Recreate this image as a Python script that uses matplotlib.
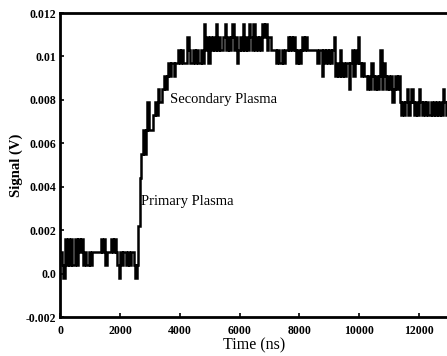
import numpy as np
import matplotlib
import matplotlib.pyplot as plt

matplotlib.use('agg')

plt.rcParams['font.family'] = ['Liberation Serif', 'DejaVu Serif']

# scope trace, sampled every 50 ns, in mV
dt_ns = 50
signal_mv = [
    1.0, 0.4, -0.2, 1.6, 0.4, 1.6, 0.4, 1.6, 0.4, 0.4, 1.6, 0.4, 1.6, 1.0, 1.6, 0.4, 1.0, 0.4, 0.4, 1.0,
    0.4, 1.0, 1.0, 1.0, 1.0, 1.0, 1.0, 1.6, 1.0, 1.6, 0.4, 1.0, 1.0, 1.0, 1.6, 1.0, 1.6, 1.0, 0.4, -0.2,
    1.0, 0.4, 1.0, 1.0, 0.4, 1.0, 0.4, 1.0, 1.0, 0.4, -0.2, 0.4, 2.2, 4.4, 5.5, 6.6, 5.5, 6.6, 7.9, 6.6,
    6.6, 6.6, 7.3, 7.9, 7.3, 8.5, 7.9, 7.9, 8.5, 9.1, 8.5, 9.1, 9.7, 9.1, 9.7, 9.7, 9.1, 9.7, 9.7, 10.3,
    9.7, 10.3, 9.7, 9.7, 9.7, 10.9, 10.3, 9.7, 9.7, 10.3, 9.7, 10.3, 9.7, 9.7, 10.3, 9.7, 11.5, 10.3, 10.9, 9.7,
    10.9, 10.3, 10.9, 10.3, 11.5, 10.3, 10.9, 10.3, 10.3, 10.9, 11.5, 10.3, 10.9, 10.3, 10.9, 11.5, 10.3, 10.9, 9.7, 10.3,
    10.9, 10.3, 11.5, 10.3, 10.9, 10.3, 11.5, 10.9, 10.3, 11.5, 10.3, 10.9, 10.3, 10.9, 10.3, 11.5, 10.9, 11.5, 10.3, 10.9,
    10.9, 10.3, 10.3, 10.3, 9.7, 10.3, 9.7, 9.7, 10.3, 9.7, 10.3, 10.3, 10.9, 10.3, 10.9, 10.3, 10.9, 10.3, 9.7, 10.3,
    9.7, 10.3, 10.9, 10.3, 10.9, 10.3, 10.3, 10.3, 10.3, 10.3, 10.3, 10.3, 9.7, 10.3, 10.3, 9.1, 10.3, 9.7, 10.3, 9.7,
    10.3, 9.7, 10.3, 10.9, 9.1, 9.7, 9.1, 10.3, 9.1, 9.7, 9.1, 9.7, 9.7, 8.5, 9.7, 10.3, 9.1, 10.3, 9.7, 10.9,
    9.7, 9.1, 9.7, 9.1, 9.1, 8.5, 9.1, 8.5, 9.7, 9.1, 8.5, 9.1, 8.5, 9.1, 10.3, 8.5, 9.7, 9.1, 8.5, 9.1,
    8.5, 9.1, 7.9, 8.5, 9.1, 8.5, 9.1, 7.9, 7.3, 7.9, 7.3, 7.9, 8.5, 7.3, 7.9, 8.5, 7.9, 7.3, 7.9, 7.3,
    8.5, 7.9, 7.3, 7.9, 7.3, 7.9, 7.3, 7.3, 7.9, 7.3, 7.9, 7.3, 7.9, 7.3, 7.9, 7.3, 8.5, 7.9, 7.3, 7.9,
]

x_ticks = [0, 2000, 4000, 6000, 8000, 10000, 12000]
y_ticks = [-0.002, 0.0, 0.002, 0.004, 0.006, 0.008, 0.01, 0.012]
y_tick_labels = ['-0.002', '0.0', '0.002', '0.004', '0.006', '0.008', '0.01', '0.012']

time_ns = np.arange(len(signal_mv)) * dt_ns
signal_v = np.array(signal_mv) / 1000.0

fig = plt.figure(figsize=(4.47, 3.56), dpi=100, facecolor='white')
ax = fig.add_axes([60.5 / 447, 39 / 356, 1 - 60.5 / 447, 304 / 356])

ax.plot(time_ns, signal_v, color='black', lw=1.8, drawstyle='steps-post',
        solid_joinstyle='miter')

ax.set_xlim(0, 12940)
ax.set_ylim(-0.002, 0.012)
ax.set_xticks(x_ticks)
ax.set_xticklabels([str(v) for v in x_ticks], fontsize=8.5, fontweight='bold')
ax.set_yticks(y_ticks)
ax.set_yticklabels(y_tick_labels, fontsize=8.5, fontweight='bold')
ax.tick_params(direction='in', length=3, width=1.2, pad=3)
ax.tick_params(axis='x', pad=6)

for side in ['left', 'top', 'bottom']:
    ax.spines[side].set_linewidth(2)
ax.spines['right'].set_visible(False)

ax.set_xlabel('Time (ns)', fontsize=11.5, labelpad=0)
ax.set_ylabel('Signal (V)', fontsize=10.5, fontweight='bold', labelpad=2)

ax.text(3650, 0.0080, 'Secondary Plasma', fontsize=10.5, va='center', ha='left')
ax.text(2700, 0.0033, 'Primary Plasma', fontsize=10.5, va='center', ha='left')

plt.savefig('out.png', dpi=100)
